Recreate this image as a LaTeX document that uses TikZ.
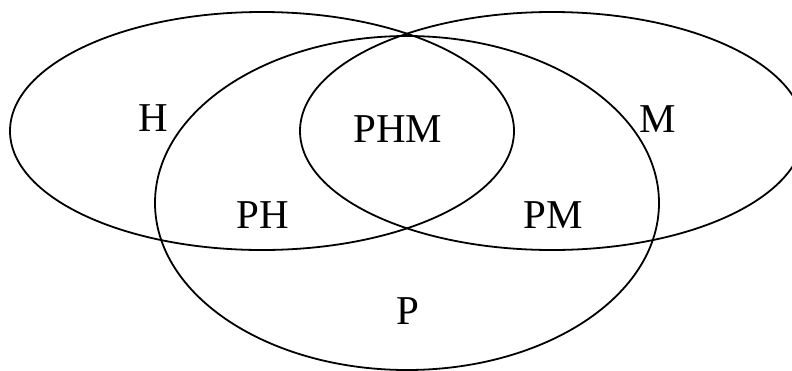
\documentclass[tikz,border=0pt]{standalone}
\usepackage{fontspec}
\setmainfont{Liberation Serif}
\usepackage{tikz}
\usetikzlibrary{positioning}

\begin{document}
\begin{tikzpicture}[x=1pt, y=-1pt, line join=round, line cap=round,
    vien/.style={line width=1.8pt},
    nhan/.style={inner sep=0pt, font=\fontsize{41}{49}\selectfont}]

        % =========================
        % KHUNG HINH
        % =========================
        \useasboundingbox (0,0) rectangle (792,370);
        \clip (0,0) rectangle (792,370);

        % =========================
        % TAM CAC ELIP
        % =========================
        \coordinate (H) at (262,131);
        \coordinate (M) at (552,131);
        \coordinate (P) at (407,203);

        % =========================
        % CAC ELIP
        % =========================
        \draw[vien]
            (H) ellipse [x radius=252pt, y radius=119pt];

        \draw[vien]
            (M) ellipse [x radius=252pt, y radius=119pt];

        \draw[vien]
            (P) ellipse [x radius=252pt, y radius=167pt];

        % =========================
        % NHAN CAC VUNG
        % =========================
        \node[nhan] (lH)   at (153,118) {H};
        \node[nhan] (lPHM) at (398,129) {PHM};
        \node[nhan] (lM)   at (658,119) {M};
        \node[nhan] (lPH)  at (263,215) {PH};
        \node[nhan] (lPM)  at (553,215) {PM};
        \node[nhan] (lP)   at (408,311) {P};

\end{tikzpicture}
\end{document}
